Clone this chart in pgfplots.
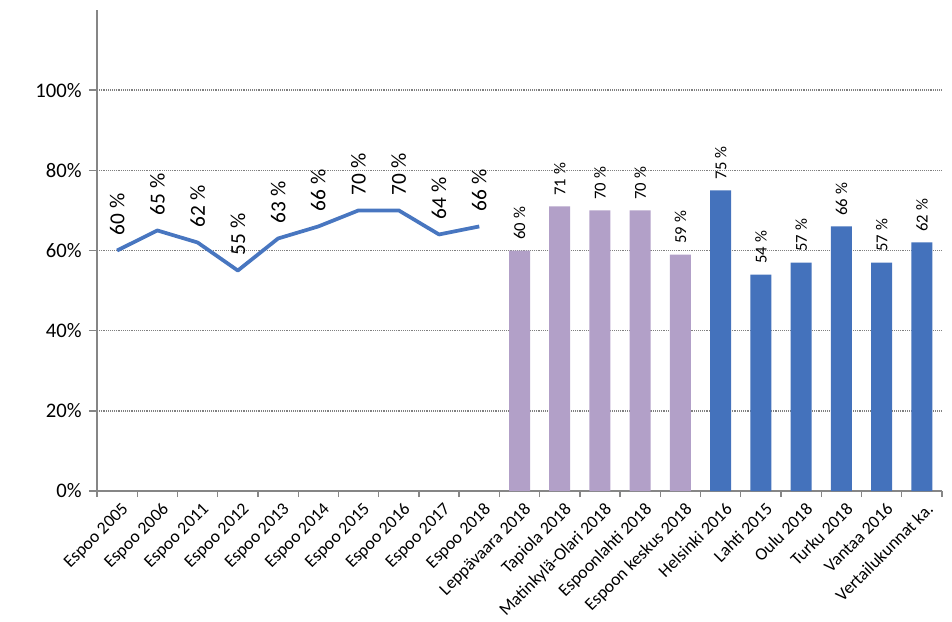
\documentclass[border=0pt]{standalone}
\usepackage{pgfplots}
\pgfplotsset{compat=1.18}
\usepackage{fontspec}
\setmainfont{Carlito}
\definecolor{linecol}{RGB}{72,118,192}
\definecolor{lilac}{RGB}{178,160,200}
\definecolor{barblue}{RGB}{68,114,188}
\definecolor{axgray}{RGB}{134,134,134}
\begin{document}
\begin{tikzpicture}
\begin{axis}[
  name=ax,
  scale only axis,
  width=633.75pt, height=360.75pt,
  xmin=-0.5, xmax=20.5,
  ymin=0, ymax=120,
  clip=false,
  axis x line*=bottom, axis y line*=left,
  axis line style={axgray, line width=1.3pt},
  tick align=outside,
  major tick length=6pt, minor tick length=4.5pt,
  tick style={axgray, line width=1pt},
  /pgf/number format/assume math mode=true,
  ytick={0,20,40,60,80,100},
  yticklabel={\pgfmathprintnumber{\tick}\%},
  yticklabel style={font=\fontsize{15.5}{18}\selectfont, xshift=-2pt},
  ymajorgrids,
  major grid style={densely dotted, gray, line width=1.1pt},
  xtick={0,...,20},
  minor xtick={-0.5,0.5,...,20.5},
  every major x tick/.style={draw=none},
  xticklabels={Espoo 2005, Espoo 2006, Espoo 2011, Espoo 2012, Espoo 2013,
    Espoo 2014, Espoo 2015, Espoo 2016, Espoo 2017, Espoo 2018,
    Leppävaara 2018, Tapiola 2018, Matinkylä-Olari 2018, Espoonlahti 2018,
    Espoon keskus 2018, Helsinki 2016, Lahti 2015, Oulu 2018, Turku 2018,
    Vantaa 2016, Vertailukunnat ka.},
  xticklabel style={font=\fontsize{13.2}{16}\selectfont, rotate=45, anchor=north east, xshift=4pt, yshift=0pt},
]
\addplot[linecol, line width=2.8pt, line join=round,
  nodes near coords={\pgfmathprintnumber{\pgfplotspointmeta}~\%},
  every node near coord/.append style={rotate=90, anchor=west, black,
    font=\fontsize{16}{18}\selectfont, inner xsep=10pt}]
  coordinates {(0,60)(1,65)(2,62)(3,55)(4,63)(5,66)(6,70)(7,70)(8,64)(9,66)};
\addplot[ybar, bar width=15.75pt, bar shift=0pt, fill=lilac, draw=none,
  nodes near coords={\pgfmathprintnumber{\pgfplotspointmeta}~\%},
  every node near coord/.append style={rotate=90, anchor=west, black,
    font=\fontsize{12.5}{15}\selectfont, inner xsep=8pt}]
  coordinates {(10,60)(11,71)(12,70)(13,70)(14,59)};
\addplot[ybar, bar width=15.75pt, bar shift=0pt, fill=barblue, draw=none,
  nodes near coords={\pgfmathprintnumber{\pgfplotspointmeta}~\%},
  every node near coord/.append style={rotate=90, anchor=west, black,
    font=\fontsize{12.5}{15}\selectfont, inner xsep=8pt}]
  coordinates {(15,75)(16,54)(17,57)(18,66)(19,57)(20,62)};
\end{axis}
\pgfresetboundingbox
\path ([shift={(-72.75pt,-97.5pt)}]ax.south west) rectangle ([shift={(7.5pt,7.5pt)}]ax.north east);
\end{tikzpicture}
\end{document}
